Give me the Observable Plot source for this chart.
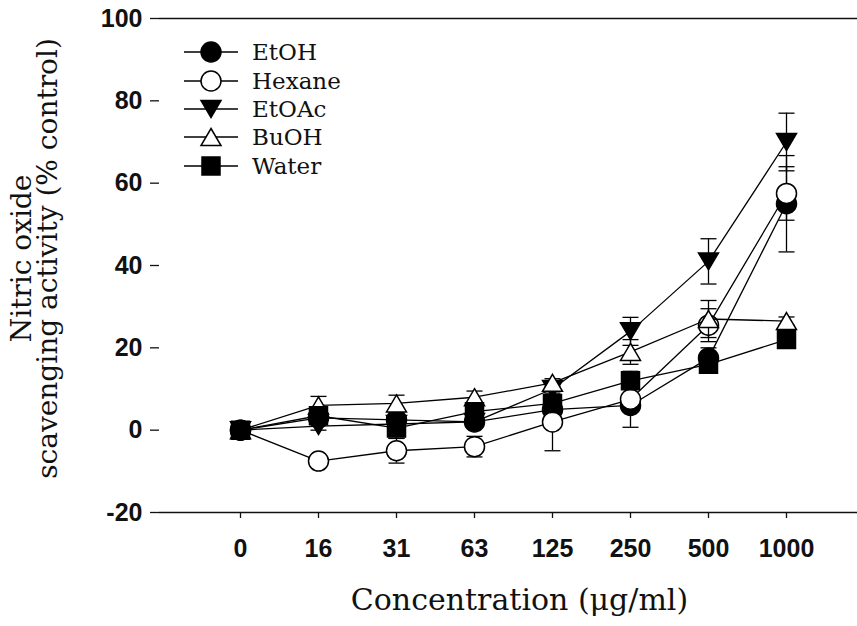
<!DOCTYPE html>
<html><head><meta charset="utf-8">
<script src="https://cdn.jsdelivr.net/npm/d3@7"></script>
<script src="https://cdn.jsdelivr.net/npm/@observablehq/plot@0.6"></script>
<style>
body{margin:0;background:#fff;}
#wrap{position:relative;width:857px;height:626px;overflow:hidden;}
#legend{position:absolute;left:0;top:0;}
</style></head><body><div id="wrap"></div>
<script>
const concentrations = ["0","16","31","63","125","250","500","1000"];
const seriesNames = ["EtOH","Hexane","EtOAc","BuOH","Water"];
const etohValues   = [0, 3, 2.5, 2, 5, 6, 17.5, 55];
const etohErrors   = [0.8, 1, 1, 1, 1, 1.5, 2.5, 11.7];
const hexaneValues = [0, -7.5, -5, -4, 2, 7.5, 25.5, 57.5];
const hexaneErrors = [0.8, 1, 3, 2.5, 7, 6.8, 4, 6.5];
const etoacValues  = [0, 1, 1.5, 2, 10, 24, 41, 70];
const etoacErrors  = [0.8, 1, 1, 1, 1.5, 3.4, 5.5, 7];
const buohValues   = [0, 6, 6.5, 8, 11.5, 19, 27, 26.5];
const buohErrors   = [0.8, 2.2, 2, 1.5, 1, 3, 4.5, 1];
const waterValues  = [0, 3.5, 0.5, 4.5, 6.5, 12, 16, 22];
const waterErrors  = [0.8, 1, 2.5, 1, 1, 1, 1, 1];
const yTicks = [-20, 0, 20, 40, 60, 80, 100];
const xLabel = "Concentration (\u03bcg/ml)";
const yLabel = "Nitric oxide\nscavenging activity (% control)";

// custom symbols
const triDown = {draw(ctx, size){const r=Math.sqrt(size/Math.PI);ctx.moveTo(-r,-0.85*r);ctx.lineTo(r,-0.85*r);ctx.lineTo(0,0.85*r);ctx.closePath();}};
const triUp = {draw(ctx, size){const r=Math.sqrt(size/Math.PI);ctx.moveTo(0,-0.85*r);ctx.lineTo(r,0.85*r);ctx.lineTo(-r,0.85*r);ctx.closePath();}};
const sq = {draw(ctx, size){const r=Math.sqrt(size/Math.PI);ctx.rect(-0.9*r,-0.9*r,1.8*r,1.8*r);}};
const circ = {draw(ctx, size){const r=Math.sqrt(size/Math.PI);ctx.moveTo(r,0);ctx.arc(0,0,r,0,2*Math.PI);}};
const cap = {draw(ctx){ctx.moveTo(-8,0);ctx.lineTo(8,0);}};

const valueArrays = [etohValues, hexaneValues, etoacValues, buohValues, waterValues];
const errorArrays = [etohErrors, hexaneErrors, etoacErrors, buohErrors, waterErrors];
const styles = [
  {symbol: circ, fill: "black"},
  {symbol: circ, fill: "white"},
  {symbol: triDown, fill: "black"},
  {symbol: triUp, fill: "white"},
  {symbol: sq, fill: "black"}
];

const marks = [];
seriesNames.forEach((name, i) => {
  const rows = concentrations.map((c, j) => ({c, v: valueArrays[i][j], e: errorArrays[i][j]}));
  marks.push(Plot.line(rows, {x: "c", y: "v", stroke: "black", strokeWidth: 1.3}));
  marks.push(Plot.ruleX(rows, {x: "c", y1: d => d.v - d.e, y2: d => d.v + d.e, stroke: "black", strokeWidth: 1.3}));
  marks.push(Plot.dot(rows, {x: "c", y: d => d.v + d.e, symbol: cap, stroke: "black", strokeWidth: 1.3}));
  marks.push(Plot.dot(rows, {x: "c", y: d => d.v - d.e, symbol: cap, stroke: "black", strokeWidth: 1.3}));
  marks.push(Plot.dot(rows, {x: "c", y: "v", symbol: styles[i].symbol, fill: styles[i].fill, stroke: "black", strokeWidth: 1.5, r: 10}));
});

const plot = Plot.plot({
  width: 857, height: 626,
  marginLeft: 159, marginRight: 0, marginTop: 18, marginBottom: 114,
  style: {background: "transparent", color: "#111", overflow: "visible"},
  x: {type: "point", domain: concentrations, padding: 0.93, align: 0.53},
  y: {domain: [-20, 100]},
  marks: [
    Plot.ruleY([-20, 100], {stroke: "#111", strokeWidth: 1.3}),
    Plot.axisY({ticks: yTicks, tickFormat: d => String(d), tickSize: 9, tickPadding: 8, line: true, label: null,
      fontSize: 25, fontWeight: "bold", fontFamily: "Liberation Sans, Arial, sans-serif", stroke: "#111", strokeWidth: 1.3}),
    Plot.axisX({tickSize: 6, tickPadding: 21, label: null,
      fontSize: 25, fontWeight: "bold", fontFamily: "Liberation Sans, Arial, sans-serif", stroke: "#111", strokeWidth: 1.3}),
    Plot.text([xLabel], {frameAnchor: "bottom", dy: 88, dx: 11, fontSize: 30, fontFamily: "DejaVu Serif, serif", fill: "#111", lineAnchor: "middle", textAnchor: "middle"}),
    Plot.text([yLabel], {frameAnchor: "left", dx: -124, dy: -7, rotate: -90, fontSize: 28, lineHeight: 0.93, fontFamily: "DejaVu Serif, serif", fill: "#111", lineAnchor: "middle", textAnchor: "middle"}),
    ...marks
  ]
});
const wrap = document.getElementById("wrap");
wrap.appendChild(plot);

// legend overlay
const lg = d3.select(wrap).append("svg").attr("id", "legend").attr("width", 857).attr("height", 626);
const rowY = [52, 81, 109, 137, 166];
seriesNames.forEach((name, i) => {
  const g = lg.append("g").attr("transform", `translate(0,${rowY[i]})`);
  g.append("line").attr("x1", 184).attr("x2", 238).attr("y1", 0).attr("y2", 0).attr("stroke", "black").attr("stroke-width", 1.3);
  g.append("path").attr("transform", "translate(211,0)")
    .attr("d", d3.symbol().type(styles[i].symbol).size(Math.PI * 100)())
    .attr("fill", styles[i].fill).attr("stroke", "black").attr("stroke-width", 1.5);
  g.append("text").attr("x", 252).attr("y", 0).attr("dy", "0.35em")
    .attr("font-family", "DejaVu Serif, serif").attr("font-size", 23).attr("fill", "#111").text(name);
});
</script></body></html>
